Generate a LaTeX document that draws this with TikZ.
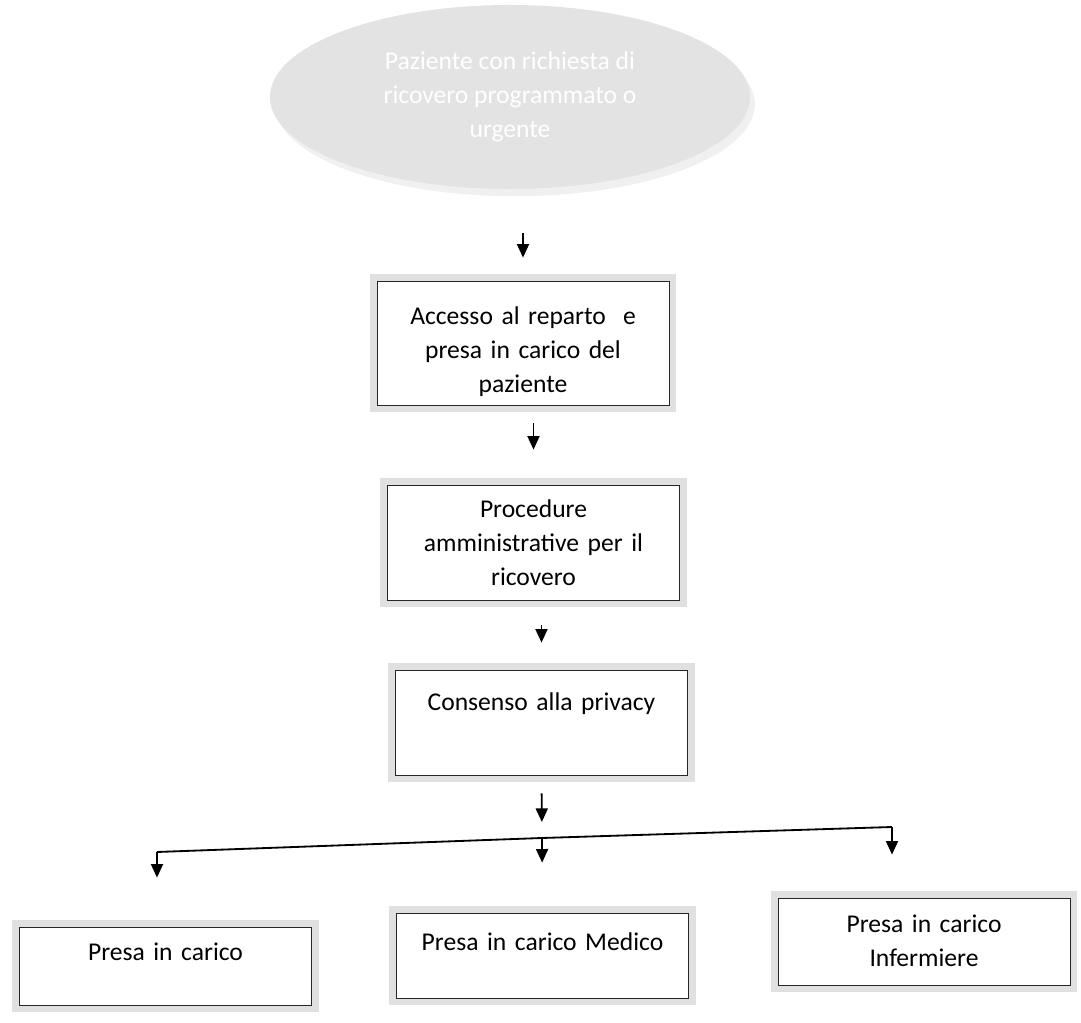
\documentclass[tikz,border=0pt]{standalone}
\usepackage{fontspec}
\setmainfont{Carlito}
\usetikzlibrary{arrows.meta,shapes.geometric,shadows}

\begin{document}
\begin{tikzpicture}[x=0.025cm,y=-0.025cm]
\tikzset{
  startnode/.style={ellipse,fill=gray!22,draw=none,minimum width=120mm,minimum height=46mm,
    align=center,text=white,font=\fontsize{18.2}{24}\selectfont,
    drop shadow={shadow xshift=1.2mm,shadow yshift=-1.8mm,fill=gray!12,opacity=1}},
  stepbox/.style={rectangle,fill=white,draw=black!85,line width=0.5pt,align=center,
    text width=63mm,inner xsep=5mm,inner ysep=0pt,font=\fontsize{18.2}{24}\selectfont,
    preaction={draw=gray!24,line width=3.6mm}},
  flowarrow/.style={draw=black,line width=1.3pt,-{Triangle[length=3.4mm,width=3mm]}},
  flowline/.style={draw=black,line width=1.3pt}
}
\useasboundingbox (0,0) rectangle (1081,1023);
\node[startnode] (n_start) at (510,97) {Paziente con richiesta di\\ ricovero programmato o\\ urgente};
\node[stepbox,text height=11mm,text depth=20mm] (n_acc) at (523,343) {Accesso al reparto~ e\\ presa in carico del\\ paziente};
\node[stepbox,text height=8.25mm,text depth=20.5mm] (n_proc) at (533.5,542.5) {Procedure\\ amministrative per il\\ ricovero};
\node[stepbox,text height=10.25mm,text depth=16mm] (n_cons) at (541.5,722.5) {Consenso alla privacy};
\node[stepbox,text height=8.5mm,text depth=11mm] (n_pc) at (165.5,966) {Presa in carico};
\node[stepbox,text height=9.25mm,text depth=12mm] (n_med) at (542.5,955.5) {Presa in carico Medico};
\node[stepbox,text height=8.75mm,text depth=13mm] (n_inf) at (924,941.5) {Presa in carico\\ Infermiere};
\coordinate (c_left) at (157,852);
\coordinate (c_mid) at (542,838);
\coordinate (c_right) at (892,827);
\draw[flowarrow,shorten <=11mm,shorten >=5.75mm] (n_start.south -| n_acc.north) -- (n_acc.north);
\draw[flowarrow,shorten <=4.5mm,shorten >=8.75mm] (n_acc.south -| n_proc.north) -- (n_proc.north);
\draw[flowarrow,shorten <=6.25mm,shorten >=6.75mm] (n_proc.south -| n_cons.north) -- (n_cons.north);
\draw[flowarrow,shorten <=4.5mm,shorten >=4mm] (n_cons.south) -- (c_mid);
\draw[flowline] (c_left) -- (c_mid) -- (c_right);
\draw[flowarrow,shorten >=12.25mm] (c_left) -- (c_left |- n_pc.north);
\draw[flowarrow,shorten >=12.5mm] (c_mid) -- (n_med.north);
\draw[flowarrow,shorten >=10.75mm] (c_right) -- (c_right |- n_inf.north);
\end{tikzpicture}
\end{document}
